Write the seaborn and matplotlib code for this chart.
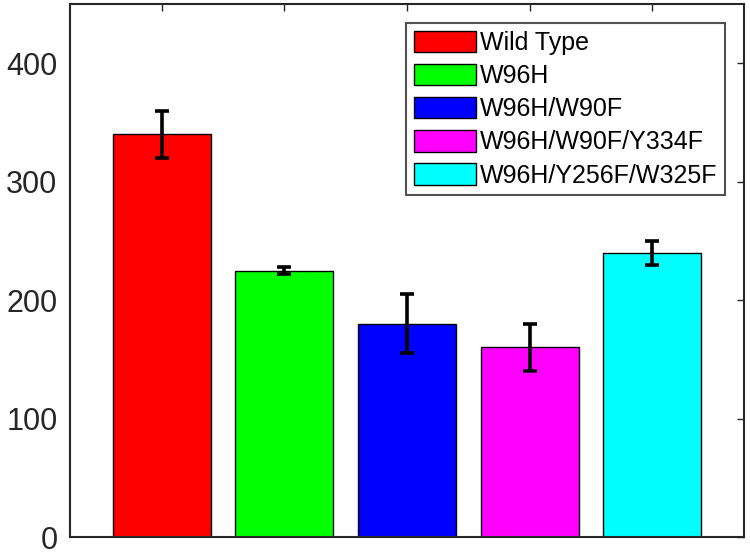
import numpy as np
import pandas as pd
import matplotlib
matplotlib.use("Agg")
import matplotlib.pyplot as plt
import seaborn as sns

# ============== данные ==============
labels = ["Wild Type", "W96H", "W96H/W90F", "W96H/W90F/Y334F", "W96H/Y256F/W325F"]
values = [340, 225, 180, 160, 240]
errors = [20, 3, 25, 20, 10]
colors = ["#ff0000", "#00ff00", "#0000ff", "#ff00ff", "#00ffff"]

df = pd.DataFrame({"sample": labels, "value": values})

sns.set_style("white")
plt.rcParams['font.family'] = ['Liberation Sans', 'DejaVu Sans']

fig = plt.figure(figsize=(7.5, 5.55), dpi=100)
ax = fig.add_axes([0.0933, 0.0324, 0.8987, 0.9604])

sns.barplot(data=df, x="sample", y="value", hue="sample", palette=colors,
            saturation=1, width=0.8, edgecolor="black", linewidth=1,
            legend=True, ax=ax)
ax.errorbar(np.arange(len(values)), values, yerr=errors, fmt="none",
            ecolor="black", elinewidth=2.6, capsize=4.7, capthick=2.6, zorder=5)

ax.set_xlim(-0.75, 4.75)
ax.set_ylim(0, 450)
ax.set_yticks([0, 100, 200, 300, 400])
ax.set_xticks(np.arange(len(values)))
ax.set_xticklabels([])
ax.set_xlabel("")
ax.set_ylabel("")
ax.tick_params(axis="both", direction="in", length=5, width=1, color="#262626",
               top=True, right=True, labelsize=22, labelcolor="#262626", pad=9)
for sp in ax.spines.values():
    sp.set_visible(True)
    sp.set_color("#262626")
    sp.set_linewidth(1.5)

leg = ax.legend(loc="upper right", bbox_to_anchor=(0.972, 0.964), borderaxespad=0,
                fontsize=18, frameon=True, fancybox=False, edgecolor="#262626",
                handlelength=2.5, handleheight=0.95, handletextpad=0.15,
                labelspacing=0.35, borderpad=0.3)
leg.get_frame().set_linewidth(1.5)
for t in leg.get_texts():
    t.set_color("black")

plt.savefig("out.png", dpi=100)
